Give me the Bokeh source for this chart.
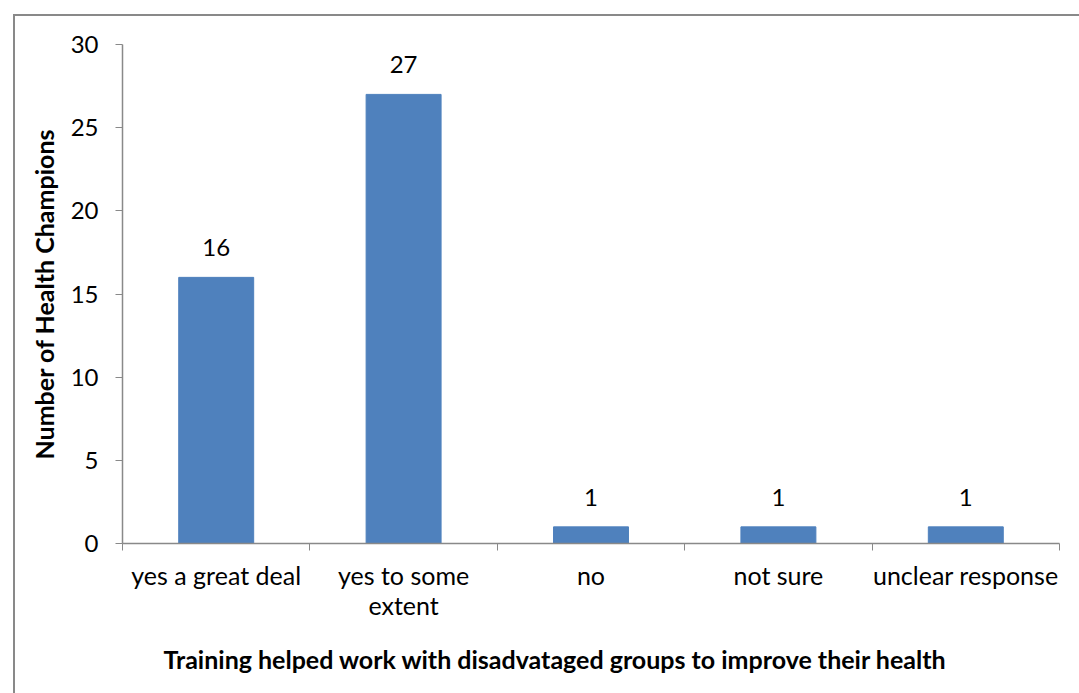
from bokeh.plotting import figure
from bokeh.models import FixedTicker, Range1d, ColumnDataSource, LabelSet, Title
from bokeh.core.properties import value
from bokeh.embed import file_html
from bokeh.resources import INLINE

categories = ["yes a great deal", "yes to some\nextent", "no", "not sure", "unclear response"]
values = [16, 27, 1, 1, 1]
y_ticks = [0, 5, 10, 15, 20, 25, 30]
x_title = "Training helped work with disadvataged groups to improve their health"
y_title = "Number of Health Champions"

FONT = "Lato"
GRAY = "#898989"

n = len(categories)
centers = [i + 0.5 for i in range(n)]
bounds = list(range(n + 1))

src = ColumnDataSource(dict(x=centers, top=values, lab=[str(v) for v in values]))

p = figure(width=1079, height=693, x_range=Range1d(0, n), y_range=Range1d(0, 30),
           output_backend="svg", toolbar_location=None,
           min_border_left=122, min_border_right=20, min_border_top=44, min_border_bottom=150)
p.outline_line_color = None
p.xgrid.visible = False
p.ygrid.visible = False
# chart-area border (left and top edges visible in the window)
p.border_fill_color = None
p.background_fill_color = None
p.styles = {
    "background": ("linear-gradient(#898989, #898989) 13px 14px / 2px 100% no-repeat, "
                   "linear-gradient(#898989, #898989) 13px 14px / 100% 2px no-repeat, white"),
}

p.vbar(x="x", top="top", width=0.4, bottom=0, source=src, color="#4F81BD")

labels = LabelSet(x="x", y="top", text="lab", source=src, text_align="center",
                  text_baseline="alphabetic", y_offset=21, text_font=value(FONT),
                  text_font_size="24px", text_color="black")
p.add_layout(labels)

xa = p.xaxis[0]
xa.ticker = FixedTicker(ticks=centers, minor_ticks=bounds)
xa.major_label_overrides = {c: t for c, t in zip(centers, categories)}
xa.major_tick_out = 0
xa.major_tick_in = 0
xa.minor_tick_out = 7
xa.minor_tick_in = 0
xa.minor_tick_line_color = GRAY
xa.axis_line_color = GRAY
xa.axis_line_width = 1.5
xa.major_label_text_font = FONT
xa.major_label_text_font_size = "25px"
xa.major_label_text_color = "black"
xa.major_label_text_line_height = 1.0
xa.major_label_standoff = 9

xt = Title(text=x_title, align="left", offset=41, text_font=FONT, text_font_size="25px",
           text_font_style="bold", text_color="black", standoff=38)
p.add_layout(xt, "below")

ya = p.yaxis[0]
ya.ticker = FixedTicker(ticks=y_ticks)
ya.minor_tick_line_color = None
ya.major_tick_out = 7
ya.major_tick_in = 0
ya.major_tick_line_color = GRAY
ya.axis_line_color = GRAY
ya.axis_line_width = 1.5
ya.major_label_text_font = FONT
ya.major_label_text_font_size = "24px"
ya.major_label_text_color = "black"
ya.major_label_standoff = 17
ya.axis_label = y_title
ya.axis_label_text_font = FONT
ya.axis_label_text_font_style = "bold"
ya.axis_label_text_font_size = "25px"
ya.axis_label_text_color = "black"
ya.axis_label_standoff = 9

open("out.html", "w").write(file_html(p, INLINE))
